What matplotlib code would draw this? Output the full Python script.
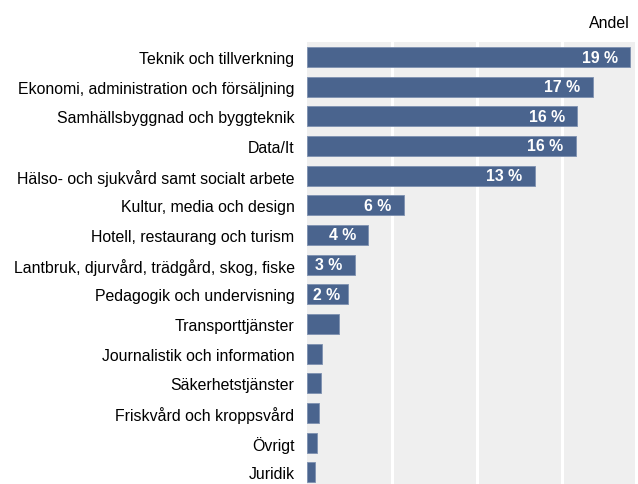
import matplotlib.pyplot as plt

categories = [
    "Teknik och tillverkning",
    "Ekonomi, administration och försäljning",
    "Samhällsbyggnad och byggteknik",
    "Data/It",
    "Hälso- och sjukvård samt socialt arbete",
    "Kultur, media och design",
    "Hotell, restaurang och turism",
    "Lantbruk, djurvård, trädgård, skog, fiske",
    "Pedagogik och undervisning",
    "Transporttjänster",
    "Journalistik och information",
    "Säkerhetstjänster",
    "Friskvård och kroppsvård",
    "Övrigt",
    "Juridik",
]
values = [19.0, 16.8, 15.9, 15.8, 13.4, 5.7, 3.6, 2.8, 2.4, 1.9, 0.9, 0.8, 0.7, 0.6, 0.45]
shown_labels = ["19 %", "17 %", "16 %", "16 %", "13 %", "6 %", "4 %", "3 %", "2 %",
                None, None, None, None, None, None]

plt.rcParams['font.family'] = ['Liberation Sans', 'DejaVu Sans']

bar_color = '#4a648e'
fig = plt.figure(figsize=(6.38, 4.85), dpi=100)
ax = fig.add_axes([307 / 638, 0, 328 / 638, 442 / 485])
ax.set_facecolor('#efefef')

pos = list(range(len(categories)))
ax.barh(pos, values, height=0.675, color=bar_color, edgecolor='#7d90b0',
        linewidth=0.6, zorder=3)

for i, (v, lab) in enumerate(zip(values, shown_labels)):
    if lab is None:
        continue
    if v < 2.5:
        ax.annotate(lab, (0, i), xytext=(4.5, 0), textcoords='offset points',
                    ha='left', va='center', color='white', fontweight='bold',
                    fontsize=11.4, zorder=4)
    else:
        ax.annotate(lab, (v, i), xytext=(-8.8, 0), textcoords='offset points',
                    ha='right', va='center', color='white', fontweight='bold',
                    fontsize=11.4, zorder=4)

ax.set_yticks(pos)
ax.set_yticklabels(categories, fontsize=11.4)
ax.set_ylim(14.395, -0.506)
ax.set_xlim(0, 19.3)
ax.set_xticks([5, 10, 15])
ax.xaxis.grid(True, color='white', linewidth=2.2, zorder=1)
ax.set_axisbelow(True)
ax.tick_params(axis='x', length=0, labelbottom=False)
ax.tick_params(axis='y', length=0, pad=9)
for s in ax.spines.values():
    s.set_visible(False)

fig.text(630 / 638, 1 - 23 / 485, "Andel", ha='right', va='center', fontsize=11.4)

fig.savefig('out.png', dpi=100)
